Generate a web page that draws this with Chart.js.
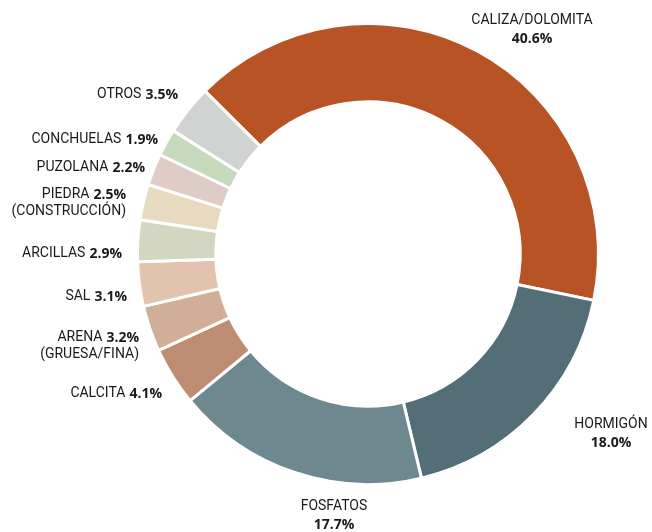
<!DOCTYPE html>
<html>
<head>
<meta charset="utf-8">
<script src="https://cdn.jsdelivr.net/npm/chart.js@4"></script>
<style>
  html, body { margin: 0; padding: 0; background: #fff; }
  #wrap { width: 652px; height: 532px; position: relative; }
</style>
</head>
<body>
<div id="wrap"><canvas id="chart"></canvas></div>
<script>
// data
const categories = ['CALIZA/DOLOMITA', 'HORMIGÓN', 'FOSFATOS', 'CALCITA', 'ARENA\n(GRUESA/FINA)', 'SAL',
  'ARCILLAS', 'PIEDRA\n(CONSTRUCCIÓN)', 'PUZOLANA', 'CONCHUELAS', 'OTROS'];
const shares = [40.6, 18.0, 17.7, 4.1, 3.2, 3.1, 2.9, 2.5, 2.2, 1.9, 3.5];
const colors = ['#b85326', '#546e78', '#6e8890', '#be8c72', '#d1ae97', '#e2c3ad',
  '#d3d6c0', '#e8dac0', '#dfccc6', '#c5dabb', '#d1d3d2'];

// label anchors (right edge or centre, in px)
const labelPos = [
  { x: 532, y: 20, align: 'center' },
  { x: 611, y: 424, align: 'center' },
  { x: 334, y: 506, align: 'center' },
  { x: 162, y: 393, align: 'right' },
  { x: 139, y: 337, align: 'right' },
  { x: 127, y: 296, align: 'right' },
  { x: 122, y: 253, align: 'right' },
  { x: 126, y: 194, align: 'right' },
  { x: 145, y: 167, align: 'right' },
  { x: 158, y: 139, align: 'right' },
  { x: 178, y: 94, align: 'right' }
];

const nameFont = '14px Roboto, "DejaVu Sans", sans-serif';
const pctFont = 'bold 14px "Open Sans", "DejaVu Sans", sans-serif';

const labelPlugin = {
  id: 'labels',
  afterDraw(chart) {
    const ctx = chart.ctx;
    ctx.save();
    ctx.textBaseline = 'middle';
    ctx.fillStyle = '#1a1a1a';
    categories.forEach((cat, i) => {
      const p = labelPos[i];
      const lines = cat.split('\n');
      const pct = shares[i].toFixed(1) + '%';
      if (p.align === 'center') {
        ctx.textAlign = 'center';
        ctx.font = nameFont;
        lines.forEach((ln, k) => ctx.fillText(ln, p.x, p.y + k * 18));
        ctx.font = pctFont;
        ctx.fillText(pct, p.x, p.y + lines.length * 18 + 1);
      } else {
        ctx.textAlign = 'right';
        ctx.font = pctFont;
        const w = ctx.measureText(pct).width;
        ctx.fillText(pct, p.x, p.y + 1);
        ctx.font = nameFont;
        ctx.fillText(lines[0], p.x - w - 4, p.y);
        for (let k = 1; k < lines.length; k++) {
          ctx.fillText(lines[k], p.x, p.y + k * 17);
        }
      }
    });
    ctx.restore();
  }
};

new Chart(document.getElementById('chart'), {
  type: 'doughnut',
  data: {
    labels: categories,
    datasets: [{
      data: shares,
      backgroundColor: colors,
      borderColor: '#ffffff',
      borderWidth: 3
    }]
  },
  options: {
    responsive: true,
    maintainAspectRatio: false,
    animation: false,
    rotation: -45,
    cutout: '66%',
    layout: { padding: { left: 136, right: 52, top: 22, bottom: 46 } },
    plugins: {
      legend: { display: false },
      tooltip: { enabled: false }
    }
  },
  plugins: [labelPlugin]
});
</script>
</body>
</html>
